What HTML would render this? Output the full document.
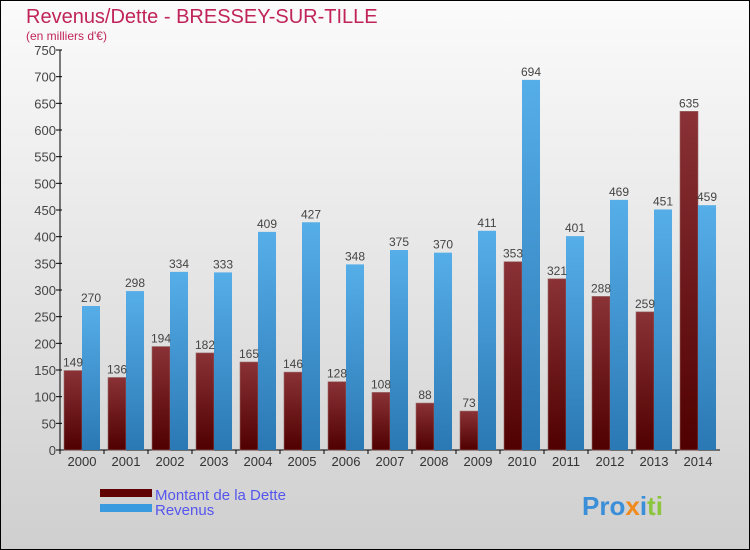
<!DOCTYPE html>
<html><head><meta charset="utf-8"><style>
body{margin:0}
svg{display:block;font-family:"Liberation Sans",sans-serif}
</style></head><body>
<svg width="750" height="550" viewBox="0 0 750 550">
<defs>
<linearGradient id="bg" x1="0" y1="0" x2="0" y2="1"><stop offset="0" stop-color="#fbfbfb"/><stop offset="1" stop-color="#cfcfcf"/></linearGradient>
<linearGradient id="gd" x1="0" y1="0" x2="0" y2="1"><stop offset="0" stop-color="#8a3236"/><stop offset="1" stop-color="#500000"/></linearGradient>
<linearGradient id="gr" x1="0" y1="0" x2="0" y2="1"><stop offset="0" stop-color="#56aee8"/><stop offset="1" stop-color="#2a78b4"/></linearGradient>
</defs>
<rect x="0.5" y="0.5" width="749" height="549" fill="url(#bg)" stroke="#000"/>
<text x="26" y="23" font-size="20" fill="#c0245a">Revenus/Dette - BRESSEY-SUR-TILLE</text>
<text x="26" y="40" font-size="12" fill="#c0245a">(en milliers d'€)</text>
<g id="axes"></g>
<g id="bars"></g>
<g>
<rect x="100" y="489" width="52" height="8" fill="#600000"/>
<text x="155" y="500" font-size="15" fill="#5555ee">Montant de la Dette</text>
<rect x="100" y="504" width="52" height="8" fill="#3a9ae0"/>
<text x="155" y="515" font-size="15" fill="#5555ee">Revenus</text>
</g>
<g>
<text x="582" y="515" font-size="26" font-weight="bold"><tspan fill="#3b8fd8">Pro</tspan><tspan fill="#f08a1c">x</tspan><tspan fill="#3b8fd8">i</tspan><tspan fill="#8cc63f">ti</tspan></text>
</g>
</svg>
<script>
const years=["2000","2001","2002","2003","2004","2005","2006","2007","2008","2009","2010","2011","2012","2013","2014"];
const debt=[149,136,194,182,165,146,128,108,88,73,353,321,288,259,635];
const revenue=[270,298,334,333,409,427,348,375,370,411,694,401,469,451,459];
const yTicks=[0,50,100,150,200,250,300,350,400,450,500,550,600,650,700,750];
const NS="http://www.w3.org/2000/svg";
const x0=60,groupW=44,y0=450,yMax=750,plotH=400,barW=18;
function y(v){return y0-v/yMax*plotH;}
function gx(i){return x0+i*groupW;}
function mk(tag,attrs,parent){const e=document.createElementNS(NS,tag);for(const k in attrs)e.setAttribute(k,attrs[k]);parent.appendChild(e);return e;}
const axes=document.getElementById('axes'),bars=document.getElementById('bars');
const ya=mk('line',{x1:x0,y1:y(yMax),x2:x0,y2:y0,stroke:'#000'},axes);


const xa=mk('line',{x1:x0,y1:y0,x2:x0+groupW*years.length,y2:y0,stroke:'#000'},axes);


yTicks.forEach(t=>{
 mk('line',{x1:x0-4,y1:y(t),x2:x0+2,y2:y(t),stroke:'#000'},axes);
 const tx=mk('text',{x:x0-4,y:y(t)+5,'font-size':13,'text-anchor':'end',fill:'#444'},axes);
 tx.textContent=t;
 
 
});
years.forEach((yr,i)=>{
 const cx=gx(i)+groupW/2;
 mk('line',{x1:gx(i),y1:y0,x2:gx(i),y2:y0+4,stroke:'#000'},axes);
 const tx=mk('text',{x:cx,y:y0+16,'font-size':13,'text-anchor':'middle',fill:'#333'},axes);
 tx.textContent=yr;
 
 
 const b1=mk('rect',{x:cx-barW,y:y(debt[i]),width:barW,height:y0-y(debt[i]),fill:'url(#gd)',stroke:'#9a6a6a','stroke-width':0.6},bars);
 
 
 const b2=mk('rect',{x:cx,y:y(revenue[i]),width:barW,height:y0-y(revenue[i]),fill:'url(#gr)'},bars);
 
 
 const l1=mk('text',{x:cx-barW/2,y:y(debt[i])-4,'font-size':12,'text-anchor':'middle',fill:'#444'},bars);
 l1.textContent=debt[i];
 
 
 const l2=mk('text',{x:cx+barW/2,y:y(revenue[i])-4,'font-size':12,'text-anchor':'middle',fill:'#444'},bars);
 l2.textContent=revenue[i];
 
 
});
</script>
</body></html>
